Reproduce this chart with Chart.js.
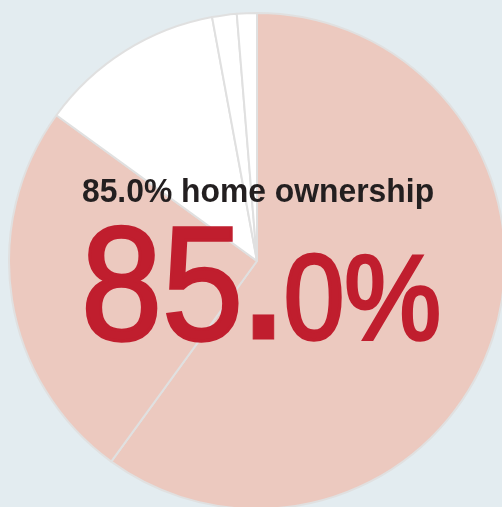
<!DOCTYPE html>
<html>
<head>
<meta charset="utf-8">
<script src="https://cdn.jsdelivr.net/npm/chart.js@4"></script>
<style>
  html, body { margin: 0; padding: 0; overflow: hidden; width: 502px; height: 507px; background: #e3ecf0; }
  #wrap { position: absolute; left: 7px; top: 11px; width: 500px; height: 500px; }
  .txt { position: absolute; width: 502px; text-align: center; white-space: nowrap;
         font-family: "Liberation Sans", Arial, sans-serif; line-height: 1; transform-origin: center center; }
  #sub { left: 7px; top: 174px; font-size: 33px; font-weight: 700; color: #231f20; transform: scaleX(0.965); }
  #big { left: 10px; top: 202px; font-size: 162px; font-weight: 400; color: #c01e2e;
         -webkit-text-stroke: 3.4px #c01e2e; transform: scaleX(0.9); }
  #big .dot { font-weight: 700; -webkit-text-stroke: 1px #c01e2e; }
  #big .small { font-size: 121px; -webkit-text-stroke: 3.6px #c01e2e; }
</style>
</head>
<body>
<div id="wrap"><canvas id="c"></canvas></div>
<div class="txt" id="sub">85.0% home ownership</div>
<div class="txt" id="big">85<span class="dot">.</span><span class="small">0%</span></div>
<script>
const categories = ["Owned (mortgage)", "Owned (outright)", "Rented", "Other", "Not stated"];
const shares = [60.0, 25.0, 12.1, 1.6, 1.3];
const sliceColors = ["#ecc9bf", "#ecc9bf", "#ffffff", "#ffffff", "#ffffff"];

new Chart(document.getElementById("c"), {
  type: "pie",
  data: {
    labels: categories,
    datasets: [{
      data: shares,
      backgroundColor: sliceColors,
      borderColor: "#e0e0e0",
      borderWidth: 2,
      radius: 248,
      clip: false
    }]
  },
  options: {
    responsive: true,
    maintainAspectRatio: false,
    animation: false,
    layout: { padding: 0 },
    plugins: { legend: { display: false }, tooltip: { enabled: false }, title: { display: false } }
  }
});
</script>
</body>
</html>
